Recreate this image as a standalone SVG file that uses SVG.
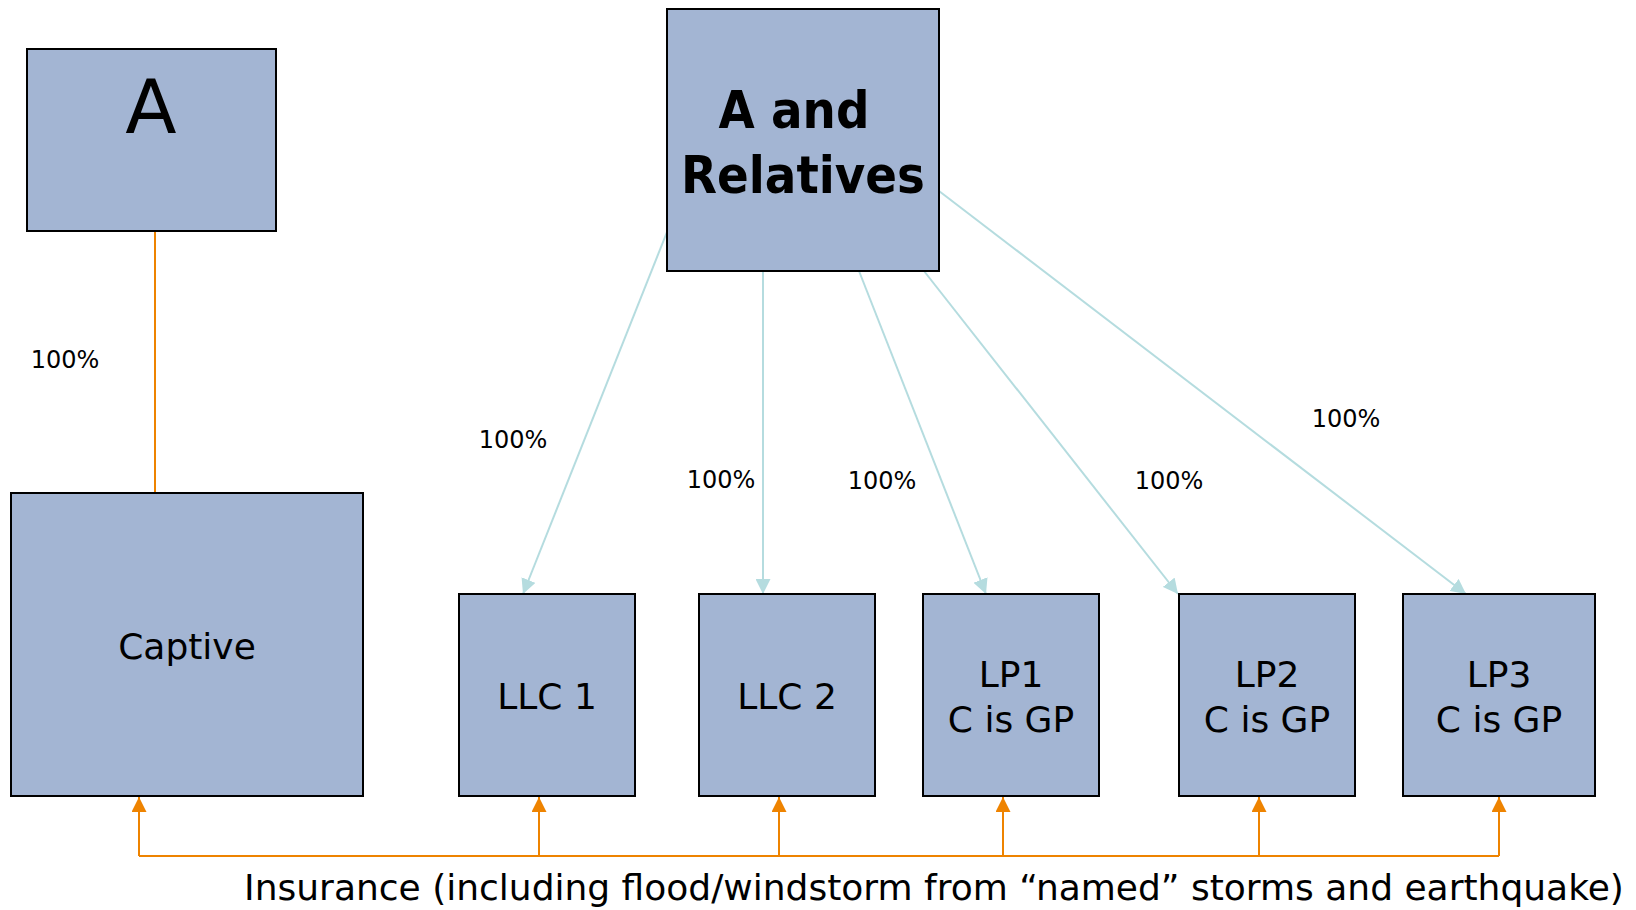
<svg xmlns="http://www.w3.org/2000/svg" width="1636" height="910" viewBox="0 0 1636 910">
  <style>
    .box { fill: #A3B5D3; stroke: #000; stroke-width: 2; }
    .lbl { font-family: "DejaVu Sans", "Liberation Sans", sans-serif; font-size: 36px; fill: #000; text-anchor: middle; }
    .big { font-family: "DejaVu Sans", "Liberation Sans", sans-serif; font-size: 75px; fill: #000; text-anchor: middle; }
    .bold { font-family: "DejaVu Sans Condensed", "DejaVu Sans", sans-serif; font-stretch: condensed; font-weight: bold; font-size: 52px; fill: #000; text-anchor: middle; }
    .pct { font-family: "DejaVu Sans", "Liberation Sans", sans-serif; font-size: 24px; fill: #000; text-anchor: middle; }
    .own { stroke: #B5DCDF; stroke-width: 2; fill: none; marker-end: url(#tealHead); }
    .ins { stroke: #EE8300; stroke-width: 2; fill: none; }
    .insArrow { stroke: #EE8300; stroke-width: 2; fill: none; marker-end: url(#orangeHead); }
  </style>
  <defs>
    <marker id="tealHead" markerUnits="userSpaceOnUse" viewBox="0 0 15 15" markerWidth="15" markerHeight="15" refX="15" refY="7.5" orient="auto">
      <path d="M0,0 L15,7.5 L0,15 z" fill="#B5DCDF"/>
    </marker>
    <marker id="orangeHead" markerUnits="userSpaceOnUse" viewBox="0 0 15 15" markerWidth="15" markerHeight="15" refX="15" refY="7.5" orient="auto">
      <path d="M0,0 L15,7.5 L0,15 z" fill="#EE8300"/>
    </marker>
  </defs>
  <rect width="1636" height="910" fill="#fff"/>

  <!-- connectors -->
  <g id="connectors">
    <!-- ownership: A -> Captive -->
    <line class="ins" x1="155" y1="231" x2="155" y2="493"/>
    <!-- ownership: A and Relatives -> entities -->
    <line class="own" x1="667" y1="232" x2="523" y2="594"/>
    <line class="own" x1="763" y1="271" x2="763" y2="594"/>
    <line class="own" x1="859" y1="271" x2="986" y2="594"/>
    <line class="own" x1="924" y1="271" x2="1178" y2="594"/>
    <line class="own" x1="939" y1="191" x2="1466" y2="594"/>
    <!-- insurance bus -->
    <line class="ins" x1="139" y1="856" x2="1499" y2="856"/>
    <line class="insArrow" x1="139" y1="856" x2="139" y2="797"/>
    <line class="insArrow" x1="539" y1="856" x2="539" y2="797"/>
    <line class="insArrow" x1="779" y1="856" x2="779" y2="797"/>
    <line class="insArrow" x1="1003" y1="856" x2="1003" y2="797"/>
    <line class="insArrow" x1="1259" y1="856" x2="1259" y2="797"/>
    <line class="insArrow" x1="1499" y1="856" x2="1499" y2="797"/>
    <!-- percentages -->
    <text class="pct" x="65" y="368">100%</text>
    <text class="pct" x="513" y="448">100%</text>
    <text class="pct" x="721" y="488">100%</text>
    <text class="pct" x="882" y="489">100%</text>
    <text class="pct" x="1169" y="489">100%</text>
    <text class="pct" x="1346" y="427">100%</text>
    <text class="lbl" x="934" y="900">Insurance (including flood/windstorm from “named” storms and earthquake)</text>
  </g>

  <g id="nodeA">
    <rect class="box" x="27" y="49" width="249" height="182"/>
    <text class="big" x="151" y="133">A</text>
  </g>
  <g id="nodeRelatives">
    <rect class="box" x="667" y="9" width="272" height="262"/>
    <text class="bold" x="794" y="128">A and</text>
    <text class="bold" x="803" y="193">Relatives</text>
  </g>
  <g id="nodeCaptive">
    <rect class="box" x="11" y="493" width="352" height="303"/>
    <text class="lbl" x="187" y="659">Captive</text>
  </g>
  <g id="nodeLLC1">
    <rect class="box" x="459" y="594" width="176" height="202"/>
    <text class="lbl" x="547" y="709">LLC 1</text>
  </g>
  <g id="nodeLLC2">
    <rect class="box" x="699" y="594" width="176" height="202"/>
    <text class="lbl" x="787" y="709">LLC 2</text>
  </g>
  <g id="nodeLP1">
    <rect class="box" x="923" y="594" width="176" height="202"/>
    <text class="lbl" x="1011" y="687">LP1</text>
    <text class="lbl" x="1011" y="732">C is GP</text>
  </g>
  <g id="nodeLP2">
    <rect class="box" x="1179" y="594" width="176" height="202"/>
    <text class="lbl" x="1267" y="687">LP2</text>
    <text class="lbl" x="1267" y="732">C is GP</text>
  </g>
  <g id="nodeLP3">
    <rect class="box" x="1403" y="594" width="192" height="202"/>
    <text class="lbl" x="1499" y="687">LP3</text>
    <text class="lbl" x="1499" y="732">C is GP</text>
  </g>
</svg>
